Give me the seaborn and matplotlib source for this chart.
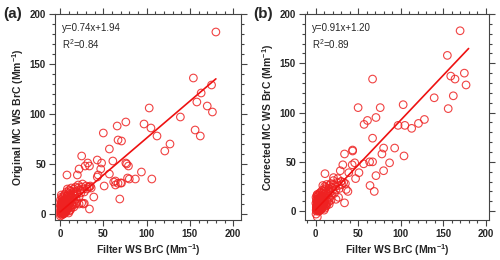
import numpy as np
import pandas as pd
import matplotlib
matplotlib.use("Agg")
import matplotlib.pyplot as plt
import seaborn as sns
from matplotlib.ticker import MultipleLocator

# ---------------- data ----------------
# panel (a): Filter WS BrC vs Original MC WS BrC
a_x = [180, 154, 175, 163, 158, 170, 176, 156, 162, 139, 103, 105, 97, 112, 127, 121,
       76, 66, 67, 71, 50, 57, 61, 76, 79, 57, 64, 64, 70, 51, 94, 87, 80, 106, 69,
       43, 48, 47, 43, 25, 32, 29, 34, 22, 20, 8, 39, 34, 27, 22, 19, 44, 62, 67, 71,
       77, 78, 34, 25, 28,
       0.5, 1, 1.2, 0.8, 1.5, 0.3, 1, 1.2, 0.5, 1.5,
       2, 2.5, 2.2, 2.8, 2, 3, 2.4, 3, 2.6, 2,
       3.5, 4, 3.8, 4.2, 3.6, 4.5, 4, 4.8, 3.3, 4.4,
       5, 5.5, 5.2, 5.8, 5, 6, 5.4, 6.2, 5.6, 6.5,
       7, 7.5, 7.2, 7.8, 7, 8, 7.4, 8.2, 7.6, 8.5,
       9, 9.5, 9.2, 9.8, 9, 10, 9.4, 10.2, 10.6, 11,
       11.5, 11.2, 11.8, 12, 12.5, 12.2, 13, 13.5, 14, 14.5,
       15, 15.5, 16, 16.5, 17, 17.5, 18, 18.5, 19, 20,
       20.5, 21, 22, 23, 24, 25, 26, 27, 28, 30,
       31, 33, 35, 36, 15, 16, 18, 12, 13, 10,
       0.7, 1.8, 2.3, 3.1, 3.9, 4.6, 5.3, 6.1, 6.8, 7.3,
       1.1, 1.9, 2.7, 3.4, 4.1, 4.9, 5.7, 6.4, 7.9, 8.8,
       0.9, 1.6, 2.9, 3.7, 4.3, 5.1, 6.6, 8.3, 9.6, 10.4]
a_y = [182, 136, 129, 121, 112, 108, 102, 84, 78, 97, 106, 86, 90, 78, 70, 63,
       92, 88, 74, 73, 81, 65, 53, 51, 48, 40, 33, 29, 31, 28, 42, 35, 35, 35, 15,
       54, 51, 45, 37, 58, 51, 48, 48, 45, 39, 39, 17, 5, 10, 10, 11, 39, 32, 30.7, 31,
       50, 36, 27, 11, 10.7,
       -2, 0, 2, 4, 6, 8, 10, 12, 14, 19,
       -1, 1, 3, 5, 7, 9, 11, 13, 15, 17,
       0, 2, 4, 6, 8, 10, 12, 14, 16, 18,
       1, 3, 5, 7, 9, 11, 13, 15, 20, 4,
       2, 6, 8, 10, 12, 14, 16, 18, 22, 25,
       5, 8, 10, 12, 15, 17, 19, 21, 24, 3,
       7, 11, 14, 17, 20, 23, 26, 9, 13, 16,
       19, 22, 25, 12, 18, 21, 27, 15, 23, 20,
       26, 29, 17, 24, 21, 27, 30, 25, 22, 28,
       25, 27, 28, 26, 9, 7, 10, 4, 6, 1,
       1, 3, 5, 2, 7, 3, 9, 4, 11, 6,
       5, 9, 2, 12, 1, 8, 3, 10, 5, 9,
       3, 7, 6, 11, 0, 4, 2, 12, 6, 9]

# panel (b): Filter WS BrC vs Corrected MC WS BrC
b_x = [170, 155, 175, 159, 164, 177, 162, 156, 139.5, 128, 121, 113, 103, 105, 97,
       104, 93, 80, 78, 87, 80, 71, 64, 69, 67, 76, 50, 71, 61, 57, 67, 43.5,
       34, 43.5, 32, 43, 46, 51, 47, 29, 38, 34, 11, 63.5, 67, 56.5, 39, 30,
       0.5, 1, 1.2, 0.8, 1.5, 0.3, 1, 1.2, 0.5, 1.5,
       2, 2.5, 2.2, 2.8, 2, 3, 2.4, 3, 2.6, 2,
       3.5, 4, 3.8, 4.2, 3.6, 4.5, 4, 4.8, 3.3, 4.4,
       5, 5.5, 5.2, 5.8, 5, 6, 5.4, 6.2, 5.6, 6.5,
       7, 7.5, 7.2, 7.8, 7, 8, 7.4, 8.2, 7.6, 8.5,
       9, 9.5, 9.2, 9.8, 9, 10, 9.4, 10.2, 10.6, 11,
       11.5, 11.2, 11.8, 12, 12.5, 12.2, 13, 13.5, 14, 14.5,
       15, 15.5, 16, 16.5, 17, 17.5, 18, 18.5, 19, 20,
       20.5, 21, 22, 23, 24, 25, 26, 27, 28, 30,
       31, 33, 35, 36, 15, 16, 18, 12, 13, 10, 21, 24, 27,
       0.7, 1.8, 2.3, 3.1, 3.9, 4.6, 5.3, 6.1, 6.8, 7.3,
       1.1, 1.9, 2.7, 3.4, 4.1, 4.9, 5.7, 6.4, 7.9, 8.8,
       0.9, 1.6, 2.9, 3.7, 4.3, 5.1, 6.6, 8.3, 9.6, 10.4]
b_y = [183, 158, 140, 137, 134, 128, 117, 104, 115, 93, 89, 84, 108, 87, 87,
       56, 64, 64, 58, 49, 41, 36, 26, 20, 134, 105, 105, 95, 92, 88, 74, 62,
       58, 61, 47, 47, 49, 39, 33, 41, 20, 8.4, 38, 50, 50, 48, 39, 30,
       -3, 0, 2, 4, 6, 8, 10, 12, 14, 16,
       -6, 1, 3, 5, 7, 9, 11, 13, 15, 17,
       0, 2, 4, 6, 8, 10, 12, 14, 16, 18,
       1, 3, 5, 7, 9, 11, 13, 15, 19, 4,
       2, 6, 8, 10, 12, 14, 16, 18, 21, 26,
       4, 8, 10, 12, 15, 17, 20, 22, 25, 3,
       7, 11, 14, 18, 21, 24, 27, 10, 13, 17,
       20, 23, 26, 13, 19, 22, 28, 16, 24, 21,
       27, 31, 18, 25, 22, 29, 33, 26, 23, 30,
       27, 29, 28, 22, 9, 7, 11, 5, 6, 1, 34, 12, 14,
       1, 3, 5, 2, 7, 3, 9, 4, 11, 6,
       5, 9, 2, 12, 1, 8, 3, 10, 5, 9,
       3, 7, 6, 11, 0, 4, 2, 12, 6, 9]

fit_slope = [0.74, 0.91]
fit_intercept = [1.94, 1.20]
fit_r2 = [0.84, 0.89]
fit_xrange = [0, 180]

panel_letters = ["(a)", "(b)"]
y_labels = ["Original MC WS BrC (Mm$^{\\mathregular{-1}}$)",
            "Corrected MC WS BrC (Mm$^{\\mathregular{-1}}$)"]
x_label = "Filter WS BrC (Mm$^{\\mathregular{-1}}$)"
tick_values = [0, 50, 100, 150, 200]

# ---------------- style ----------------
sns.set_style("ticks")
plt.rcParams["font.family"] = ["Liberation Sans", "DejaVu Sans"]
plt.rcParams["mathtext.default"] = "regular"

fig = plt.figure(figsize=(5.0, 2.6), dpi=100)
W, H = 500, 260
boxes = [(55, 14, 241, 220), (305, 14, 489, 220)]
xlims = [(-5.8, 209), (-12.5, 204)]
ylims = [(-6, 200), (-9, 200)]
data = [(a_x, a_y), (b_x, b_y)]

for i in range(2):
    l, t, r, b = boxes[i]
    ax = fig.add_axes([l / W, 1 - b / H, (r - l) / W, (b - t) / H])
    df = pd.DataFrame({"x": data[i][0], "y": data[i][1]})
    sns.scatterplot(data=df, x="x", y="y", ax=ax, marker="o", s=30,
                    facecolors="none", edgecolors="#ee2222", linewidths=0.8,
                    alpha=0.85, zorder=3)
    line_df = pd.DataFrame({"x": fit_xrange,
                            "y": [fit_slope[i] * v + fit_intercept[i] for v in fit_xrange]})
    sns.lineplot(data=line_df, x="x", y="y", ax=ax, color="#ee1111", lw=1.2, zorder=4)

    ax.set_xlim(*xlims[i])
    ax.set_ylim(*ylims[i])
    ax.set_xticks(tick_values)
    ax.set_yticks(tick_values)
    ax.set_xticklabels([str(v) for v in tick_values], fontweight="bold")
    ax.set_yticklabels([str(v) for v in tick_values], fontweight="bold")
    ax.xaxis.set_minor_locator(MultipleLocator(10))
    ax.yaxis.set_minor_locator(MultipleLocator(10))
    ax.tick_params(which="both", direction="out", top=True, right=True,
                   labeltop=False, labelright=False, color="#444444", width=0.8)
    ax.tick_params(which="major", length=4.5, labelsize=7, pad=2)
    ax.tick_params(which="minor", length=2.5)
    for sp in ax.spines.values():
        sp.set_visible(True)
        sp.set_linewidth(0.8)
        sp.set_color("#444444")
    ax.set_xlabel(x_label, fontsize=7.5, fontweight="bold", labelpad=2)
    ax.set_ylabel(y_labels[i], fontsize=7.5, fontweight="bold", labelpad=3)

    ax.text(0.04, 0.955, f"y={fit_slope[i]:.2f}x+{fit_intercept[i]:.2f}",
            transform=ax.transAxes, fontsize=7, va="top", ha="left")
    ax.text(0.04, 0.885, f"R$^{{2}}$={fit_r2[i]:.2f}",
            transform=ax.transAxes, fontsize=7, va="top", ha="left")

    fig.text((l - 52) / W, 1 - 14 / H, panel_letters[i], fontsize=11,
             fontweight="bold", va="center", ha="left")

fig.savefig("out.png", dpi=100)
